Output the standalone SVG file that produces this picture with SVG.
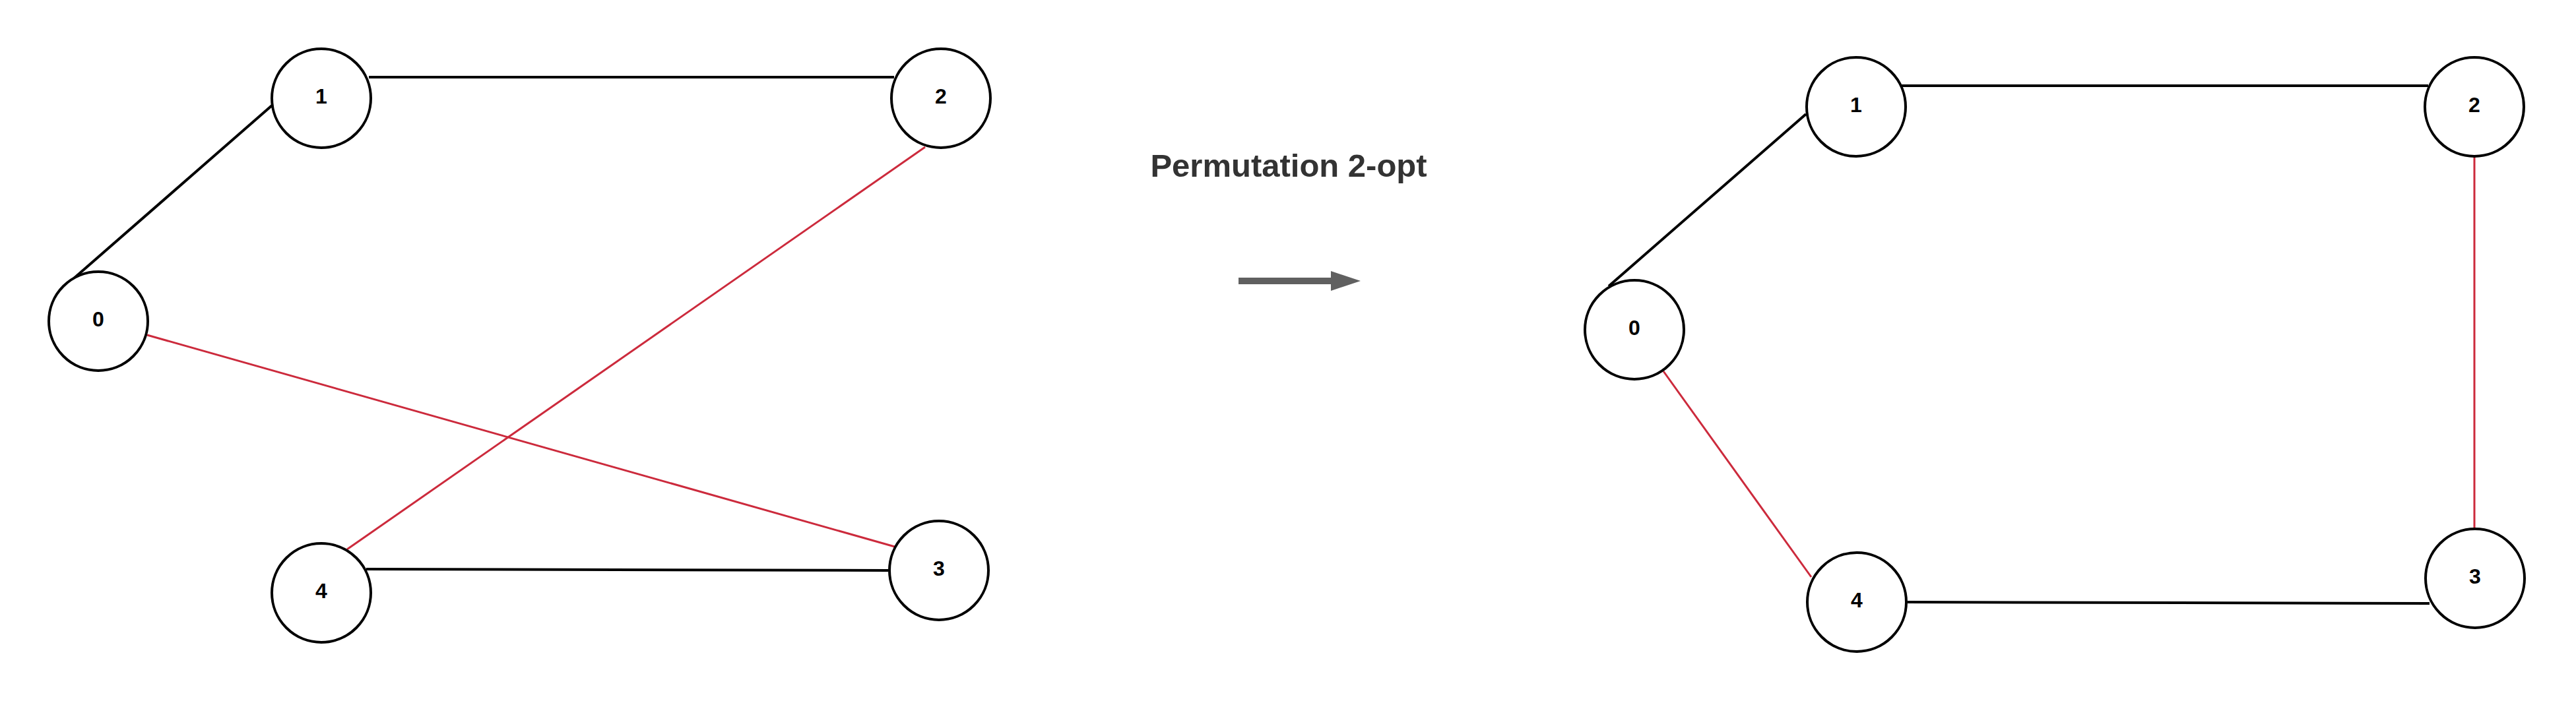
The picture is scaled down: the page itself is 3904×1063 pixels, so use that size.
<svg xmlns="http://www.w3.org/2000/svg" width="3904" height="1063" viewBox="0 0 3904 1063">
<style>
.node circle{fill:#ffffff;stroke:#000000;stroke-width:4}
.node text{font-family:"Liberation Sans",Arial,sans-serif;font-weight:bold;font-size:32px;fill:#000000;text-anchor:middle}
.blk{stroke:#000000;stroke-width:4;fill:none}
.red{stroke:#cc2a3c;stroke-width:3;fill:none}
.title{font-family:"Liberation Sans",Arial,sans-serif;font-weight:bold;font-size:49px;fill:#333333;text-anchor:middle}
</style>
<defs>
<marker id="arrowhead" markerUnits="userSpaceOnUse" markerWidth="46" markerHeight="30" refX="0" refY="15" orient="auto">
<path d="M0,0 L45,15 L0,30 Z" fill="#606060"/>
</marker>
</defs>
<rect width="3904" height="1063" fill="#ffffff"/>
<g id="connectors">
<line class="blk" x1="112" y1="422" x2="412" y2="160"/>
<line class="blk" x1="559" y1="117" x2="1355" y2="117"/>
<line class="red" x1="1402" y1="223" x2="526" y2="833"/>
<line class="red" x1="223" y1="508" x2="1356" y2="829"/>
<line class="blk" x1="555" y1="863" x2="1346" y2="865"/>
<line class="blk" x1="2438" y1="434" x2="2737" y2="173"/>
<line class="blk" x1="2881" y1="130" x2="3680" y2="130"/>
<line class="red" x1="3750" y1="238" x2="3750" y2="802"/>
<line class="red" x1="2521" y1="563" x2="2745" y2="875"/>
<line class="blk" x1="2891" y1="913" x2="3682" y2="915"/>
<line x1="1877" y1="426" x2="2017" y2="426" stroke="#606060" stroke-width="10" marker-end="url(#arrowhead)"/>
</g>
<g id="L0" class="node"><circle cx="149" cy="487" r="75"/><text x="149" y="495">0</text></g>
<g id="L1" class="node"><circle cx="487" cy="149" r="75"/><text x="487" y="157">1</text></g>
<g id="L2" class="node"><circle cx="1426" cy="149" r="75"/><text x="1426" y="157">2</text></g>
<g id="L3" class="node"><circle cx="1423" cy="865" r="75"/><text x="1423" y="873">3</text></g>
<g id="L4" class="node"><circle cx="487" cy="899" r="75"/><text x="487" y="907">4</text></g>
<g id="title"><text class="title" x="1953" y="268">Permutation 2-opt</text></g>
<g id="R0" class="node"><circle cx="2477" cy="500" r="75"/><text x="2477" y="508">0</text></g>
<g id="R1" class="node"><circle cx="2813" cy="162" r="75"/><text x="2813" y="170">1</text></g>
<g id="R2" class="node"><circle cx="3750" cy="162" r="75"/><text x="3750" y="170">2</text></g>
<g id="R3" class="node"><circle cx="3751" cy="877" r="75"/><text x="3751" y="885">3</text></g>
<g id="R4" class="node"><circle cx="2814" cy="913" r="75"/><text x="2814" y="921">4</text></g>
</svg>
